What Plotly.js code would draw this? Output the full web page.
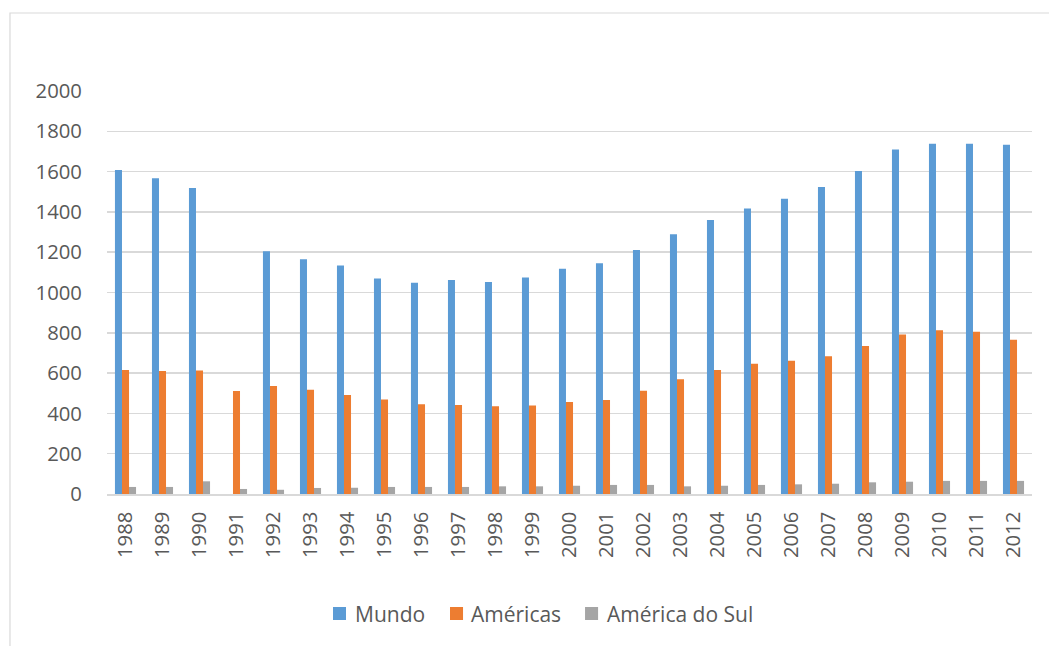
<!DOCTYPE html>
<html>
<head>
<meta charset="utf-8">
<script src="https://cdn.plot.ly/plotly-3.0.1.min.js"></script>
<style>
  html, body { margin: 0; padding: 0; background: #ffffff; }
  #chart { width: 1049px; height: 646px; }
</style>
</head>
<body>
<div id="chart"></div>
<script>
const years = ["1988","1989","1990","1991","1992","1993","1994","1995","1996","1997","1998","1999","2000","2001","2002","2003","2004","2005","2006","2007","2008","2009","2010","2011","2012"];
const mundo = [1608,1567,1519,null,1205,1165,1134,1069,1048,1062,1052,1074,1118,1145,1211,1289,1360,1417,1465,1523,1603,1710,1738,1738,1733];
const americas = [615,610,613,511,536,517,491,469,446,442,436,439,456,466,512,570,616,647,661,684,735,791,813,805,765];
const americaDoSul = [35,35,63,25,21,30,31,35,35,35,38,38,41,45,45,38,41,45,48,51,58,61,65,65,65];
const yTicks = [0,200,400,600,800,1000,1200,1400,1600,1800,2000];
const seriesNames = ['Mundo', 'Américas', 'América do Sul'];
const seriesColors = ['#5B9BD5', '#ED7D31', '#A5A5A5'];

const fontFamily = '"Open Sans", "Noto Sans", sans-serif';
const textColor = '#595959';
const tickSize = 20.3;
const legendSize = 21;

const seriesValues = [mundo, americas, americaDoSul];
const traces = seriesValues.map((vals, i) => ({
  type: 'bar', name: seriesNames[i], x: years, y: vals,
  marker: { color: seriesColors[i] }
}));

// manual legend (layout positions in paper coordinates)
const legendMarkerX = [0.2443, 0.3708, 0.5168];
const legendTextX = [0.2659, 0.3914, 0.5384];
const legendShapes = seriesNames.map((n, i) => ({
  type: 'rect', xref: 'paper', yref: 'paper',
  x0: legendMarkerX[i], x1: legendMarkerX[i] + 0.0141,
  y0: -0.3127, y1: -0.2804,
  line: { width: 0 }, fillcolor: seriesColors[i]
}));
const legendAnnotations = seriesNames.map((n, i) => ({
  xref: 'paper', yref: 'paper',
  x: legendTextX[i], y: -0.2978,
  xanchor: 'left', yanchor: 'middle',
  text: n, showarrow: false,
  font: { family: fontFamily, color: textColor, size: legendSize }
}));

const layout = {
  width: 1049,
  height: 646,
  margin: { l: 107, r: 17, t: 91, b: 152, pad: 0 },
  paper_bgcolor: '#ffffff',
  plot_bgcolor: '#ffffff',
  font: { family: fontFamily, color: textColor, size: tickSize },
  barmode: 'group',
  bargap: 0.43,
  bargroupgap: 0,
  showlegend: false,
  hovermode: false,
  xaxis: {
    type: 'category',
    tickangle: -90,
    tickfont: { family: fontFamily, color: textColor, size: tickSize },
    showgrid: false,
    showline: true,
    linecolor: '#d9d9d9',
    linewidth: 1.5,
    ticks: 'outside',
    ticklen: 8,
    tickcolor: 'rgba(0,0,0,0)',
    zeroline: false
  },
  yaxis: {
    range: [0, 2000],
    tickvals: yTicks,
    ticktext: yTicks.map(String),
    tickfont: { family: fontFamily, color: textColor, size: tickSize },
    showgrid: true,
    gridcolor: '#d9d9d9',
    gridwidth: 1.5,
    zeroline: false,
    showline: false,
    ticks: 'outside',
    ticklen: 20,
    tickcolor: 'rgba(0,0,0,0)'
  },
  annotations: legendAnnotations,
  shapes: [
    {
      type: 'rect', xref: 'paper', yref: 'paper',
      x0: -0.1049, x1: 1.05, y0: -0.6, y1: 1.1935,
      line: { color: '#d9d9d9', width: 1.2 },
      fillcolor: 'rgba(0,0,0,0)',
      layer: 'below'
    }
  ].concat(legendShapes)
};

Plotly.newPlot('chart', traces, layout, { displayModeBar: false, staticPlot: true });
</script>
</body>
</html>
